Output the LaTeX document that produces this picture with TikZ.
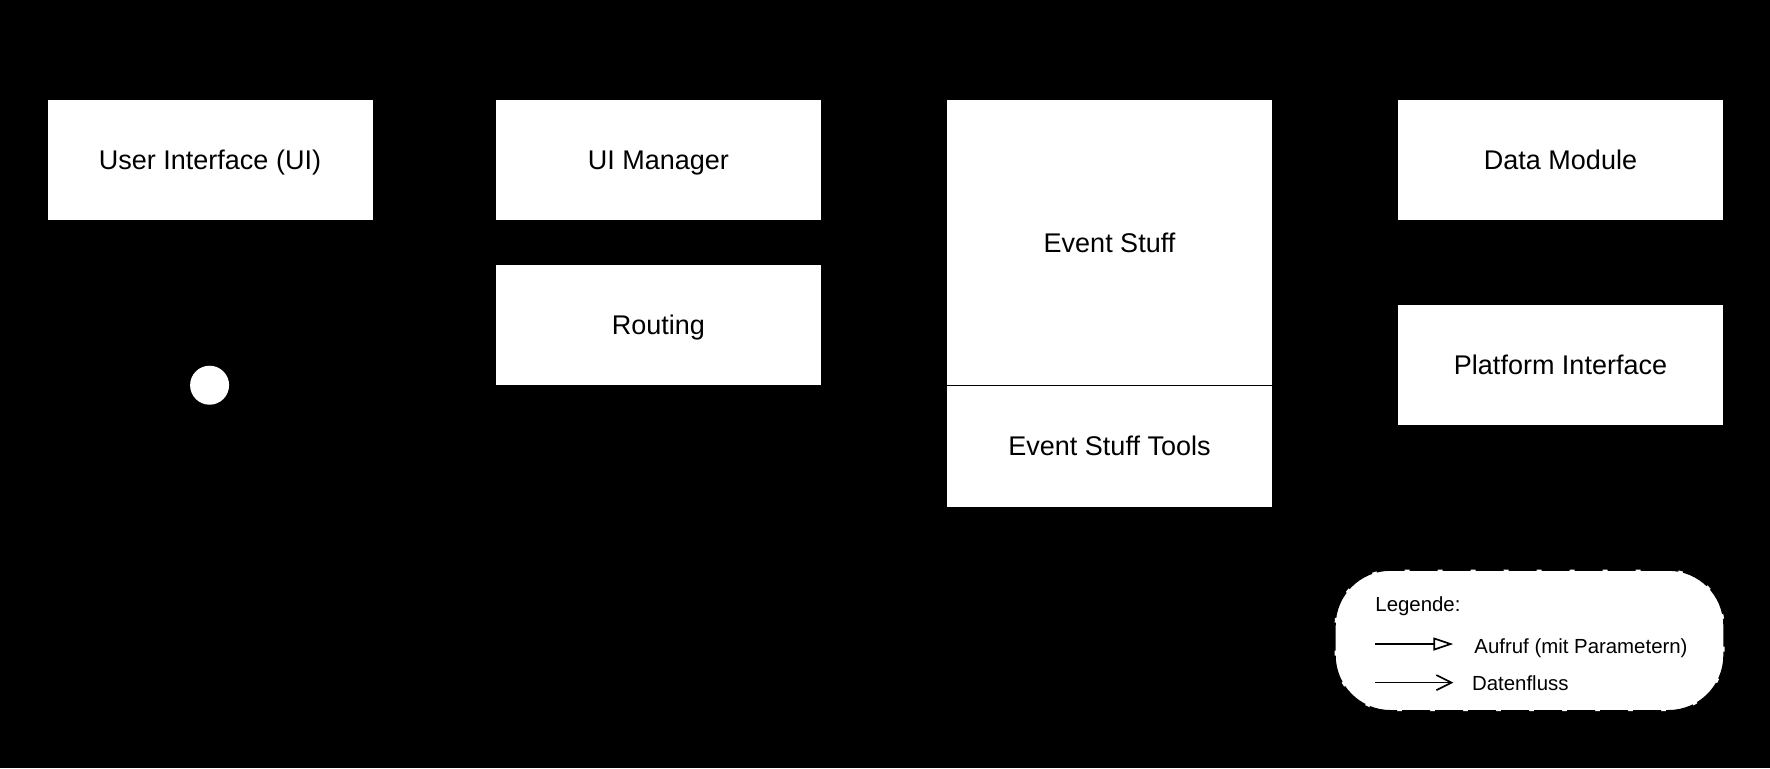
\documentclass[tikz,border=0pt]{standalone}
\usepackage{fontspec}
\setmainfont{Liberation Sans}
\usetikzlibrary{arrows.meta}
\tikzset{
  module/.style={draw=black, line width=0.5pt, fill=white, inner sep=0pt,
    minimum width=163pt, minimum height=60.5pt, text height=9.7pt, text depth=0pt,
    font=\fontsize{13.5}{16}\selectfont},
  legendbox/.style={draw=black, fill=white, line width=1.2pt,
    dash pattern=on 14pt off 2.5pt, rounded corners=28pt,
    minimum width=195pt, minimum height=70.8pt, inner sep=0pt},
  legendtext/.style={anchor=west, inner sep=0pt, text height=7.3pt, text depth=0pt,
    font=\fontsize{10.2}{12}\selectfont},
  call/.style={line width=0.85pt, -{Triangle[open, length=10pt, width=6.5pt]}},
  flow/.style={line width=0.85pt, -{Straight Barb[length=7.5pt, width=7.5pt]}},
}
\begin{document}
\begin{tikzpicture}[x=0.5pt, y=-0.5pt]
  % background
  \fill[black] (0,0) rectangle (1770,768);
  % modules
  \node[module] (ui) at (210,160) {User Interface (UI)};
  \node[module] (uimanager) at (658.4,160) {UI Manager};
  \node[module] (routing) at (658.4,325) {Routing};
  \node[module, minimum height=142.8pt] (events) at (1109.5,242.3) {Event Stuff};
  \node[module, minimum height=60.8pt] (eventtools) at (1109.5,446.2) {Event Stuff Tools};
  \node[module] (data) at (1560.5,160) {Data Module};
  \node[module] (platform) at (1560.5,365) {Platform Interface};
  \node[circle, fill=white, minimum size=19.5pt, inner sep=0pt] (start) at (209.6,385.2) {};
  % legend
  \node[legendbox] (legend) at (1529.5,640.4) {};
  \node[legendtext] (legendtitle) at (1375,604.2) {Legende:};
  \coordinate (callA) at (1375,644);
  \coordinate (callB) at (1453.3,644);
  \coordinate (flowA) at (1375,682.6);
  \coordinate (flowB) at (1453.3,682.6);
  \draw[call] (callA) -- (callB);
  \draw[flow] (flowA) -- (flowB);
  \node[legendtext] (calltext) at (1474,646.3) {Aufruf (mit Parametern)};
  \node[legendtext] (flowtext) at (1471.7,682.7) {Datenfluss};
\end{tikzpicture}
\end{document}
